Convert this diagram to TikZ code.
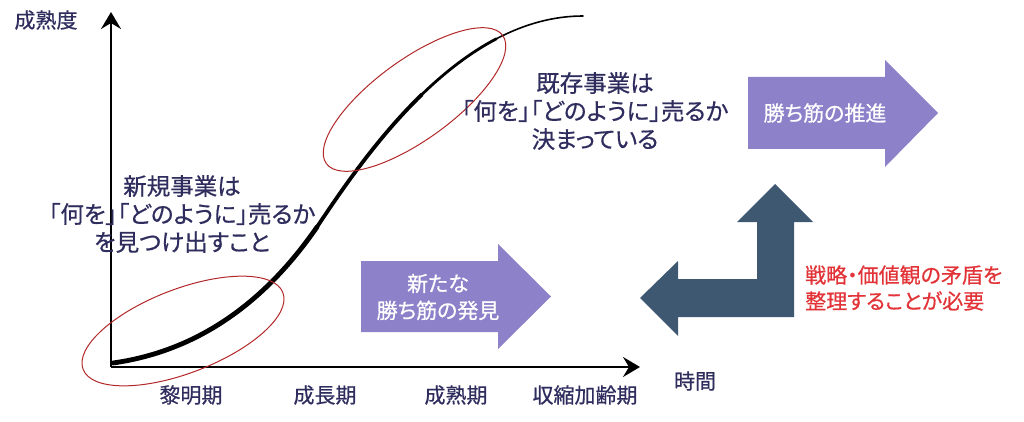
\documentclass[tikz,border=0pt]{standalone}
\usepackage{fontspec}
\setmainfont{Noto Sans CJK JP}[RawFeature={+palt;embolden=0.6}]
\usetikzlibrary{arrows.meta}
\definecolor{navy}{RGB}{47,45,94}
\definecolor{purp}{RGB}{141,129,201}
\definecolor{slate}{RGB}{62,88,113}
\definecolor{redtxt}{RGB}{226,52,56}
\definecolor{ellred}{RGB}{178,40,40}
\tikzset{
  lbl/.style={text=navy,font=\fontsize{21}{25}\selectfont,inner sep=0pt},
  txt/.style={text=navy,font=\fontsize{23.5}{28}\selectfont,align=center,inner sep=0pt},
  wtxt/.style={text=white,font=\fontsize{21}{27}\selectfont,align=center,inner sep=0pt},
  rtxt/.style={text=redtxt,font=\fontsize{21}{26}\selectfont,align=left,inner sep=0pt,anchor=west},
  axisline/.style={line width=2.2pt,black,-{Stealth[length=17pt,width=20pt,inset=6pt]}},
  ell/.style={draw=ellred,line width=1pt},
  brush/.style={line width=#1,black,line cap=round,line join=round},
}
\begin{document}
\begin{tikzpicture}[x=1pt,y=-1pt]
\useasboundingbox (0,0) rectangle (1024,422);
% axes
\coordinate (o) at (111,367);
\coordinate (ytip) at (111,12);
\coordinate (xtip) at (640,367);
\draw[axisline] (o) -- (ytip);
\draw[axisline] (o) -- (xtip);
% curve (growth S-curve, brush-like, tapering towards the end)
\coordinate (c0) at (113,363);
\coordinate (c1) at (317,227);
\coordinate (c2) at (421.875,94.5);
\coordinate (c3) at (496.3,38.84);
\coordinate (c4) at (583,16);
\draw[brush=4.8pt] (c0) .. controls (205,350) and (270,295) .. (c1);
\draw[brush=3.8pt] (c1) .. controls (341,191) and (376.75,138.25) .. (c2);
\draw[brush=2.8pt] (c2) .. controls (444.44,72.63) and (469.34,53) .. (c3);
\draw[brush=1.6pt] (c3) .. controls (523.25,24.69) and (552.25,16) .. (c4);
% ellipses
\draw[ell, rotate around={21:(183,331)}] (183,331) ellipse [x radius=107pt, y radius=42pt];
\draw[ell, rotate around={36:(414.5,99.5)}] (414.5,99.5) ellipse [x radius=109pt, y radius=40pt];
% axis labels
\node[lbl] (ylab) at (46,20) {成熟度};
\node[lbl] (xlab) at (695,381) {時間};
\node[lbl] (t1) at (191,395) {黎明期};
\node[lbl] (t2) at (325,395) {成長期};
\node[lbl] (t3) at (456,395) {成熟期};
\node[lbl] (t4) at (585,395) {収縮加齢期};
% texts
\node[txt] (newbiz) at (182,214) {新規事業は\\「何を」「どのように」売るか\\を見つけ出すこと};
\node[txt] (oldbiz) at (595,111) {既存事業は\\「何を」「どのように」売るか\\決まっている};
% purple arrows
\fill[purp] (361,261) -- (498,261) -- (498,244) -- (551,296.5) -- (498,349) -- (498,332) -- (361,332) -- cycle;
\node[wtxt] (find) at (438,297) {新たな\\勝ち筋の発見};
\fill[purp] (748,77) -- (885,77) -- (885,60) -- (938,113) -- (885,167) -- (885,149) -- (748,149) -- cycle;
\node[wtxt] (push) at (825,113) {勝ち筋の推進};
% bent arrow
\fill[slate] (640,298) -- (678,261) -- (678,279) -- (757,279) -- (757,222) -- (737,222) -- (775,184) -- (813,222) -- (794,222) -- (794,317) -- (678,317) -- (678,336) -- cycle;
\node[rtxt] (need) at (805,288) {戦略・価値観の矛盾を\\整理することが必要};
\end{tikzpicture}
\end{document}
